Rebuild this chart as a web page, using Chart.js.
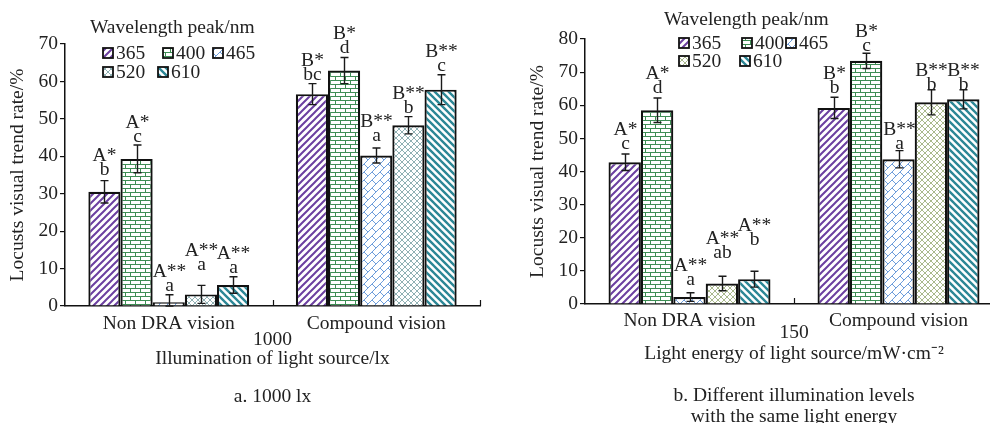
<!DOCTYPE html>
<html>
<head>
<meta charset="utf-8">
<script src="https://cdn.jsdelivr.net/npm/chart.js@4.4.0/dist/chart.umd.min.js"></script>
<style>
  html, body { margin: 0; padding: 0; background: #fff; overflow: hidden; width: 990px; height: 423px; position: relative; }
  canvas { position: absolute; top: 0; }
  #chartA { left: 0; }
  #chartB { left: 520px; }
</style>
</head>
<body>
<canvas id="chartA" width="545" height="423"></canvas>
<canvas id="chartB" width="548" height="427"></canvas>
<script>
// ---- data ----
const categories = ['Non DRA vision', 'Compound vision'];
const wavelengths = ['365', '400', '465', '520', '610'];

const yTicksA = [0, 10, 20, 30, 40, 50, 60, 70];
const yTicksB = [0, 10, 20, 30, 40, 50, 60, 70, 80];

// panel a: 1000 lx  (rows = wavelength, columns = category)
const meanA = [[30.5, 56.6], [39.3, 62.9], [1.0, 40.2], [3.1, 48.3], [5.6, 57.8]];
const errA = [[3.0, 2.8], [3.7, 3.5], [2.0, 2.0], [2.4, 2.3], [2.2, 4.0]];
const sigA = [['A*', 'B*'], ['A*', 'B*'], ['A**', 'B**'], ['A**', 'B**'], ['A**', 'B**']];
const letterA = [['b', 'bc'], ['c', 'd'], ['a', 'a'], ['a', 'b'], ['a', 'c']];

// panel b: same light energy (150 mW·cm⁻²)
const meanB = [[42.8, 59.2], [58.5, 73.4], [2.1, 43.7], [6.2, 60.9], [7.5, 61.8]];
const errB = [[2.5, 3.2], [3.7, 2.3], [1.3, 2.6], [2.2, 3.8], [2.4, 2.9]];
const sigB = [['A*', 'B*'], ['A*', 'B*'], ['A**', 'B**'], ['A**', 'B**'], ['A**', 'B**']];
const letterB = [['c', 'b'], ['d', 'c'], ['a', 'a'], ['ab', 'b'], ['b', 'b']];

// ---- layout / style ----
const FAMILY = '"Liberation Serif", "Times New Roman", serif';
const FSIZE = 19.5;
const FONT = FSIZE + 'px ' + FAMILY;
const INK = '#222';

// extra lift (px) of the significance labels so neighbouring labels stay clear
const liftA = [[2, 0], [-1, 0], [0, 3], [11, 0], [0, 0]];
const liftB = [[1, 0], [1, -2], [4, -2], [14, -4], [22, -4]];

function makePattern(targetCtx, kind, color) {
  const spec = {
    fwd:    { w: 7,  h: 7, lw: 2.0 },
    brick:  { w: 10, h: 8, lw: 1.0 },
    dbrick: { w: 8,  h: 8, lw: 1.0 },
    cross:  { w: 6,  h: 6, lw: 1.0 },
    back:   { w: 7,  h: 7, lw: 2.4 }
  }[kind];
  const c = document.createElement('canvas');
  c.width = spec.w; c.height = spec.h;
  const g = c.getContext('2d');
  g.fillStyle = '#fff';
  g.fillRect(0, 0, spec.w, spec.h);
  g.strokeStyle = color;
  g.lineWidth = spec.lw;
  g.lineCap = 'butt';
  g.beginPath();
  const seg = (x1, y1, x2, y2) => {
    for (const dx of [-spec.w, 0, spec.w]) {
      for (const dy of [-spec.h, 0, spec.h]) {
        g.moveTo(x1 + dx, y1 + dy);
        g.lineTo(x2 + dx, y2 + dy);
      }
    }
  };
  if (kind === 'fwd') seg(0, 7, 7, 0);
  if (kind === 'back') seg(0, 0, 7, 7);
  if (kind === 'brick') {
    seg(0, 0.5, 10, 0.5); seg(0, 4.5, 10, 4.5);
    seg(0.5, 0, 0.5, 4.5); seg(5.5, 4.5, 5.5, 8.5);
  }
  if (kind === 'dbrick') { seg(0, 8, 8, 0); seg(4, 4, 8, 8); }
  if (kind === 'cross') { seg(0, 6, 6, 0); seg(0, 0, 6, 6); }
  g.stroke();
  return targetCtx.createPattern(c, 'repeat');
}

function decorPlugin(cfg) {
  return {
    id: 'decor',
    afterDatasetsDraw(chart) {
      const ctx = chart.ctx;
      const xs = chart.scales.x, ys = chart.scales.y;
      ctx.save();
      // small inward tick marks at the category boundaries
      ctx.strokeStyle = '#111';
      ctx.lineWidth = 1.2;
      for (let i = 0; i < categories.length; i++) {
        const px = Math.round(xs.getPixelForValue(i + 0.5)) + 0.5;
        ctx.beginPath();
        ctx.moveTo(px, ys.bottom);
        ctx.lineTo(px, ys.bottom - 6);
        ctx.stroke();
      }
      // error bars and significance letters
      chart.data.datasets.forEach((ds, di) => {
        const meta = chart.getDatasetMeta(di);
        meta.data.forEach((bar, ci) => {
          const m = cfg.mean[di][ci], e = cfg.err[di][ci];
          const top = ys.getPixelForValue(m + e);
          const bot = ys.getPixelForValue(Math.max(0, m - e));
          const cx = Math.round(bar.x) + 0.5;
          ctx.strokeStyle = '#1a1a1a';
          ctx.lineWidth = 1.4;
          ctx.beginPath();
          ctx.moveTo(cx, top); ctx.lineTo(cx, bot);
          ctx.moveTo(cx - 4, top); ctx.lineTo(cx + 4, top);
          ctx.moveTo(cx - 4, bot); ctx.lineTo(cx + 4, bot);
          ctx.stroke();
          const base2 = top - 4 - cfg.lift[di][ci];
          ctx.fillStyle = INK;
          ctx.font = FONT;
          ctx.textAlign = 'center';
          ctx.textBaseline = 'alphabetic';
          ctx.fillText(cfg.letters[di][ci], cx, base2);
          ctx.fillText(cfg.sig[di][ci], cx, base2 - 14);
        });
      });
      // legend
      const lg = cfg.legend;
      ctx.font = FONT;
      ctx.fillStyle = INK;
      ctx.textAlign = 'left';
      ctx.textBaseline = 'middle';
      ctx.fillText('Wavelength peak/nm', lg.titleX, lg.titleY);
      wavelengths.forEach((w, i) => {
        const [bx, by] = lg.items[i];
        ctx.fillStyle = chart.data.datasets[i].backgroundColor;
        ctx.fillRect(bx, by - 5, 10, 10);
        ctx.strokeStyle = '#111';
        ctx.lineWidth = 1.8;
        ctx.strokeRect(bx, by - 5, 10, 10);
        ctx.fillStyle = INK;
        ctx.fillText(w, bx + 13, by + 1);
      });
      ctx.restore();
    }
  };
}

function buildChart(canvasId, opt) {
  const canvas = document.getElementById(canvasId);
  const ctx = canvas.getContext('2d');
  const fills = [
    makePattern(ctx, 'fwd', '#6b3fa0'),
    makePattern(ctx, 'brick', '#3e8e55'),
    makePattern(ctx, 'dbrick', '#6d9ddb'),
    makePattern(ctx, 'cross', opt.crossColor),
    makePattern(ctx, 'back', '#2c8796')
  ];
  const datasets = wavelengths.map((w, i) => ({
    label: w,
    data: opt.mean[i],
    backgroundColor: fills[i],
    borderColor: '#111',
    borderWidth: 2.2,
    categoryPercentage: 0.775,
    barPercentage: 1.0
  }));
  const ticks = opt.yTicks;
  return new Chart(ctx, {
    type: 'bar',
    data: { labels: categories, datasets },
    options: {
      responsive: false,
      animation: false,
      devicePixelRatio: 1,
      layout: { padding: { left: 0, right: 65, top: opt.top, bottom: 0 } },
      plugins: { legend: { display: false }, tooltip: { enabled: false } },
      scales: {
        x: {
          grid: { display: false, drawTicks: false },
          border: { display: true, color: '#111', width: 1.5 },
          ticks: { color: INK, font: { family: FAMILY, size: FSIZE }, padding: opt.xPad, maxRotation: 0 },
          title: {
            display: true,
            text: opt.xTitle,
            color: INK,
            font: { family: FAMILY, size: FSIZE, lineHeight: opt.titleLH },
            padding: { top: 0, bottom: opt.titlePadBottom }
          },
          afterFit: s => { s.height = opt.xHeight; }
        },
        y: {
          min: ticks[0],
          max: ticks[ticks.length - 1],
          ticks: { stepSize: ticks[1] - ticks[0], color: INK, font: { family: FAMILY, size: FSIZE }, padding: 2 },
          grid: { drawOnChartArea: false, drawTicks: true, tickLength: 5, color: '#111', lineWidth: 1.2 },
          border: { display: true, color: '#111', width: 1.5 },
          title: {
            display: true,
            text: 'Locusts visual trend rate/%',
            color: INK,
            font: { family: FAMILY, size: FSIZE },
            padding: { top: 6, bottom: 0 }
          },
          afterFit: s => { s.width = 65; }
        }
      }
    },
    plugins: [decorPlugin({
      mean: opt.mean, err: opt.err, sig: opt.sig, letters: opt.letters, lift: opt.lift, legend: opt.legend
    })]
  });
}

buildChart('chartA', {
  mean: meanA, err: errA, sig: sigA, letters: letterA, lift: liftA,
  yTicks: yTicksA, crossColor: '#8fb0b3',
  top: 44, xHeight: 117, xPad: 6,
  xTitle: ['1000', 'Illumination of light source/lx', '', 'a. 1000 lx'],
  titleLH: '19px', titlePadBottom: 16.5,
  legend: { titleX: 90, titleY: 28, items: [[103, 53], [163, 53], [213, 53], [103, 72], [158, 72]] }
});

buildChart('chartB', {
  mean: meanB, err: errB, sig: sigB, letters: letterB, lift: liftB,
  yTicks: yTicksB, crossColor: '#a9b98c',
  top: 39, xHeight: 123, xPad: 5,
  xTitle: ['150', 'Light energy of light source/mW·cm⁻²', '', 'b. Different illumination levels', 'with the same light energy'],
  titleLH: '21px', titlePadBottom: 0,
  legend: { titleX: 144, titleY: 20, items: [[159, 43], [222, 43], [266, 43], [159, 61], [220, 61]] }
});
</script>
</body>
</html>
